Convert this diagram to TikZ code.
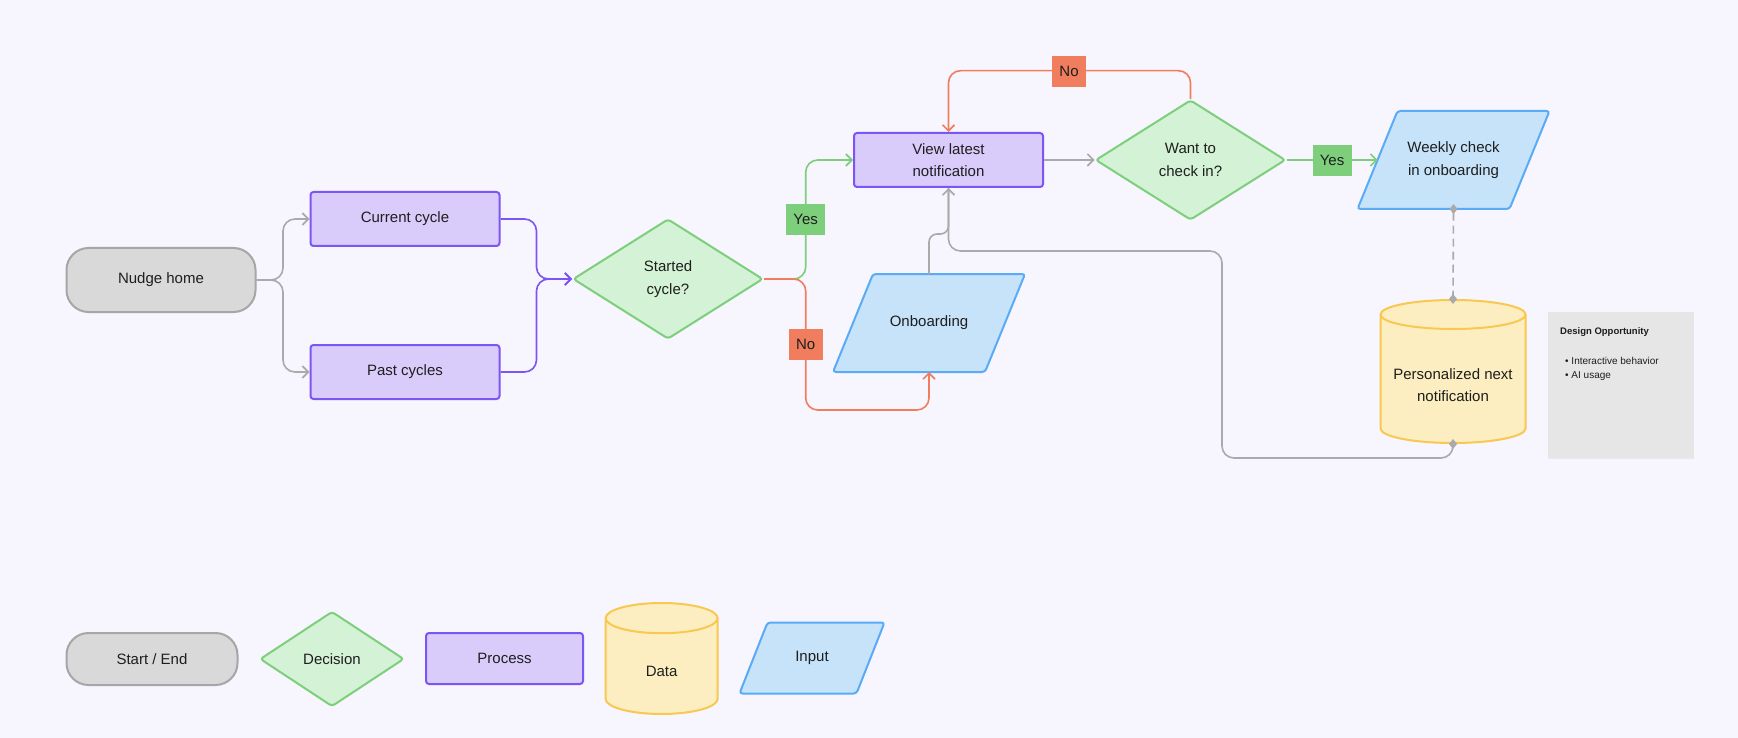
\documentclass[tikz,border=0pt]{standalone}
\usepackage{fontspec}
\setmainfont{Liberation Sans}
\usetikzlibrary{shapes.geometric,arrows.meta,shadows,backgrounds}

\definecolor{bgcol}{HTML}{F7F5FE}
\definecolor{txtcol}{HTML}{1E1E1E}
\definecolor{termfill}{HTML}{D9D9D9}
\definecolor{termline}{HTML}{A6A6A6}
\definecolor{procfill}{HTML}{D9CCFB}
\definecolor{procline}{HTML}{7C55F5}
\definecolor{decfill}{HTML}{D4F2D5}
\definecolor{decline}{HTML}{7DCF7C}
\definecolor{inpfill}{HTML}{C7E3FA}
\definecolor{inpline}{HTML}{5AABF6}
\definecolor{datfill}{HTML}{FDEEC1}
\definecolor{datline}{HTML}{F8C850}
\definecolor{nocol}{HTML}{F07E5E}
\definecolor{yescol}{HTML}{7DCF7C}
\definecolor{linkcol}{HTML}{AAAAAA}
\definecolor{notefill}{HTML}{E6E6E6}

\begin{document}
\begin{tikzpicture}[x=1pt,y=-1pt,
  >={Straight Barb[length=6pt,width=12pt]},
  base/.style={draw,line width=2pt,text=txtcol,align=center,inner sep=0pt,
    font=\fontsize{15}{22.5}\selectfont},
  plain/.style={base,draw=none},
  terminal/.style={base,fill=termfill,draw=termline,rounded corners=22pt},
  process/.style={base,fill=procfill,draw=procline,rounded corners=3pt,
    minimum width=189pt,minimum height=54pt},
  decision/.style={base,diamond,fill=decfill,draw=decline,rounded corners=3pt,
    minimum width=190pt,minimum height=120pt},
  inputbox/.style={plain,minimum width=150pt,minimum height=96pt},
  inputshape/.style={fill=inpfill,draw=inpline,line width=2pt,rounded corners=3pt},
  database/.style={base,cylinder,shape border rotate=90,aspect=0.2,text width=145pt,
    anchor=shape center,fill=datfill,draw=datline,minimum width=145pt,minimum height=143pt},
  link/.style={line width=1.6pt,rounded corners=12pt},
  yeslab/.style={fill=yescol,text=txtcol,inner sep=0pt,minimum width=39pt,
    minimum height=31pt,font=\fontsize{15}{18}\selectfont},
  nolab/.style={yeslab,fill=nocol,minimum width=34pt},
  marker/.tip={Diamond[length=10pt,width=8pt]}]

\begin{scope}[on background layer]
  \fill[bgcol] (0,0) rectangle (1738,738);
\end{scope}
\useasboundingbox (0,0) rectangle (1738,738);

% flow
\node[terminal,minimum width=189pt,minimum height=64pt] (home) at (161,280) {Nudge home};
\node[process] (cur) at (405,219) {Current cycle};
\node[process] (past) at (405,372) {Past cycles};
\node[decision] (started) at (668,279) {Started\\cycle?};
\node[process] (view) at (948.5,160) {View latest\\notification};
\node[decision] (want) at (1190.5,160) {Want to\\check in?};
\node[inputbox] (onb) at (929,323) {Onboarding};
\node[inputbox] (weekly) at (1453.5,160) {Weekly check\\in onboarding};
\node[database] (pers) at (1453,371.5) {};
\node[plain] (perstext) at ([yshift=-13.5pt]pers.shape center) {Personalized next\\notification};

\draw[link,linkcol,->] (home.east) -- (283,280) |- (cur.west);
\draw[link,linkcol,->] (home.east) -- (283,280) |- (past.west);
\draw[link,procline,->] (cur.east) -| (536.5,279) -- (started.west);
\draw[link,procline,->] (past.east) -| (536.5,279) -- (started.west);

\draw[link,yescol,->] (started.east) -- (805.7,279) |- (view.west);
\draw[link,nocol,->] (started.east) -- (805.7,279) -- (805.7,410) -| (onb.south);
\node[yeslab] (yes1) at (805.7,219.5) {Yes};
\node[nolab] (no1) at (805.7,344.5) {No};

\draw[link,linkcol,->] (view.east) -- (want.west);
\draw[link,nocol,->] (want.north) -- ++(0,-28.3) -| (view.north);
\node[nolab] (no2) at (1069,71.7) {No};
\draw[link,yescol,->] (want.east) -- (weekly.west);
\node[yeslab] (yes2) at (1332,160.5) {Yes};

\draw[link,linkcol,rounded corners=8pt] (onb.north) -- ++(0,-40) -| (view.south);
\draw[link,linkcol,marker-{>},shorten <=-5pt] (pers.south) -- ++(0,14) -| (1222,251) -| (view.south);
\draw[linkcol,line width=1.6pt,dash pattern=on 8pt off 5pt,marker-marker,
  shorten <=-5pt,shorten >=-5pt] (weekly.south) -- (pers.north);

% note
\node[fill=notefill,minimum width=146pt,minimum height=145pt,inner sep=0pt,
  drop shadow={shadow xshift=0pt,shadow yshift=-2pt,opacity=0.12}] (opp) at (1621,384.5) {};
\node[anchor=west,inner sep=0pt,text=txtcol,font=\bfseries\fontsize{9.5}{12}\selectfont]
  (opptitle) at (1560,331.7) {Design Opportunity};
\node[anchor=west,inner sep=0pt,text=txtcol,font=\fontsize{10}{12}\selectfont]
  (opp1) at (1565,360.7) {\textbullet\ Interactive behavior};
\node[anchor=west,inner sep=0pt,text=txtcol,font=\fontsize{10}{12}\selectfont]
  (opp2) at (1565,375.7) {\textbullet\ AI usage};

% legend
\node[terminal,minimum width=171pt,minimum height=52pt] (lstart) at (152,659) {Start / End};
\node[decision,minimum width=144pt,minimum height=95pt] (ldec) at (332,659) {Decision};
\node[process,minimum width=157pt,minimum height=51pt] (lproc) at (504.5,658.5) {Process};
\node[database,aspect=0.27,text width=112pt,minimum width=112pt,minimum height=111pt]
  (ldata) at (661.6,658.5) {};
\node[plain] (ldatatext) at ([yshift=-13pt]ldata.shape center) {Data};
\node[inputbox,minimum width=115pt,minimum height=69pt] (linp) at (812,658) {Input};

% parallelograms behind the input nodes
\begin{scope}[on background layer]
  \foreach \n/\s in {onb/20,weekly/20,linp/14}
    \draw[inputshape] ([xshift=-\s pt]\n.south west) -- ([xshift=-\s pt]\n.south east)
      -- ([xshift=\s pt]\n.north east) -- ([xshift=\s pt]\n.north west) -- cycle;
\end{scope}
\end{tikzpicture}
\end{document}
